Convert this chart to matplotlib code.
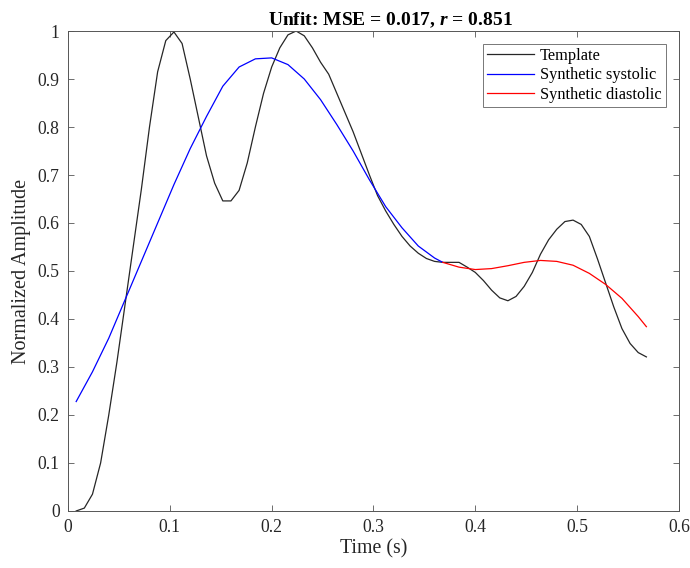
import matplotlib.pyplot as plt

plt.rcParams['font.family'] = ['Liberation Serif', 'DejaVu Serif']
plt.rcParams['mathtext.fontset'] = 'custom'
plt.rcParams['mathtext.it'] = 'Liberation Serif:italic:bold'
plt.rcParams['mathtext.rm'] = 'Liberation Serif:bold'

# Template (sampled every 8 ms)
t_template = [0.008, 0.016, 0.024, 0.032, 0.040, 0.048, 0.056, 0.064, 0.072, 0.080,
              0.088, 0.096, 0.104, 0.112, 0.120, 0.128, 0.136, 0.144, 0.152, 0.160,
              0.168, 0.176, 0.184, 0.192, 0.200, 0.208, 0.216, 0.224, 0.232, 0.240,
              0.248, 0.256, 0.264, 0.272, 0.280, 0.288, 0.296, 0.304, 0.312, 0.320,
              0.328, 0.336, 0.344, 0.352, 0.360, 0.368, 0.376, 0.384, 0.392, 0.400,
              0.408, 0.416, 0.424, 0.432, 0.440, 0.448, 0.456, 0.464, 0.472, 0.480,
              0.488, 0.496, 0.504, 0.512, 0.520, 0.528, 0.536, 0.544, 0.552, 0.560,
              0.568]
template = [0.000, 0.006, 0.035, 0.100, 0.200, 0.310, 0.430, 0.550, 0.670, 0.800,
            0.915, 0.980, 0.998, 0.974, 0.900, 0.820, 0.740, 0.683, 0.646, 0.646,
            0.668, 0.725, 0.800, 0.870, 0.925, 0.965, 0.992, 1.000, 0.990, 0.965,
            0.935, 0.910, 0.870, 0.830, 0.790, 0.745, 0.700, 0.657, 0.625, 0.597,
            0.572, 0.552, 0.537, 0.526, 0.520, 0.518, 0.518, 0.518, 0.508, 0.497,
            0.480, 0.460, 0.444, 0.438, 0.447, 0.468, 0.497, 0.535, 0.565, 0.587,
            0.603, 0.606, 0.597, 0.572, 0.525, 0.475, 0.425, 0.380, 0.349, 0.330,
            0.321]

# Synthetic systolic wave
t_sys = [0.008, 0.024, 0.040, 0.056, 0.072, 0.088, 0.104, 0.120, 0.136, 0.152,
         0.168, 0.184, 0.200, 0.216, 0.232, 0.248, 0.264, 0.280, 0.296, 0.312,
         0.328, 0.344, 0.360, 0.368]
systolic = [0.228, 0.290, 0.360, 0.440, 0.520, 0.600, 0.680, 0.755, 0.822, 0.885,
            0.925, 0.942, 0.944, 0.930, 0.900, 0.857, 0.805, 0.750, 0.690, 0.634,
            0.590, 0.552, 0.527, 0.518]

# Synthetic diastolic wave
t_dia = [0.368, 0.384, 0.400, 0.416, 0.432, 0.448, 0.464, 0.480, 0.496, 0.512,
         0.528, 0.544, 0.560, 0.568]
diastolic = [0.518, 0.508, 0.503, 0.505, 0.511, 0.518, 0.522, 0.520, 0.512, 0.495,
             0.472, 0.443, 0.405, 0.384]

fig = plt.figure(figsize=(6.9, 5.68), dpi=100)
ax = fig.add_axes([0.0986, 0.1004, 0.8854, 0.845])

ax.plot(t_template, template, color='#262626', lw=0.9, label='Template')
ax.plot(t_sys, systolic, color='b', lw=0.9, label='Synthetic systolic')
ax.plot(t_dia, diastolic, color='r', lw=0.9, label='Synthetic diastolic')

ax.set_xlim(0, 0.6)
ax.set_ylim(0, 1)
ax.set_xticks([0, 0.1, 0.2, 0.3, 0.4, 0.5, 0.6])
ax.set_xticklabels(['0', '0.1', '0.2', '0.3', '0.4', '0.5', '0.6'])
ax.set_yticks([i / 10 for i in range(11)])
ax.set_yticklabels(['0'] + ['0.%d' % i for i in range(1, 10)] + ['1'])
ax.tick_params(direction='in', length=4, width=0.6, top=True, right=True,
               labelsize=12.7, color='#555555', labelcolor='#262626', pad=6)
for s in ax.spines.values():
    s.set_color('#555555')
    s.set_linewidth(0.7)

ax.set_xlabel('Time (s)', fontsize=14.3, color='#262626', labelpad=2)
ax.set_ylabel('Normalized Amplitude', fontsize=14.5, color='#262626', labelpad=5)
title = ax.set_title('Unfit: MSE = 0.017, $r$ = 0.851', fontsize=14,
                     fontweight='bold', pad=4)
title.set_x(0.527)

leg = ax.legend(loc='upper right', fontsize=11.8, fancybox=False, handlelength=2.9,
                borderaxespad=0.8, labelspacing=0.2, handletextpad=0.35, borderpad=0.25)
leg.get_frame().set_edgecolor('#555555')
leg.get_frame().set_linewidth(0.7)

fig.savefig('out.png', dpi=100)
